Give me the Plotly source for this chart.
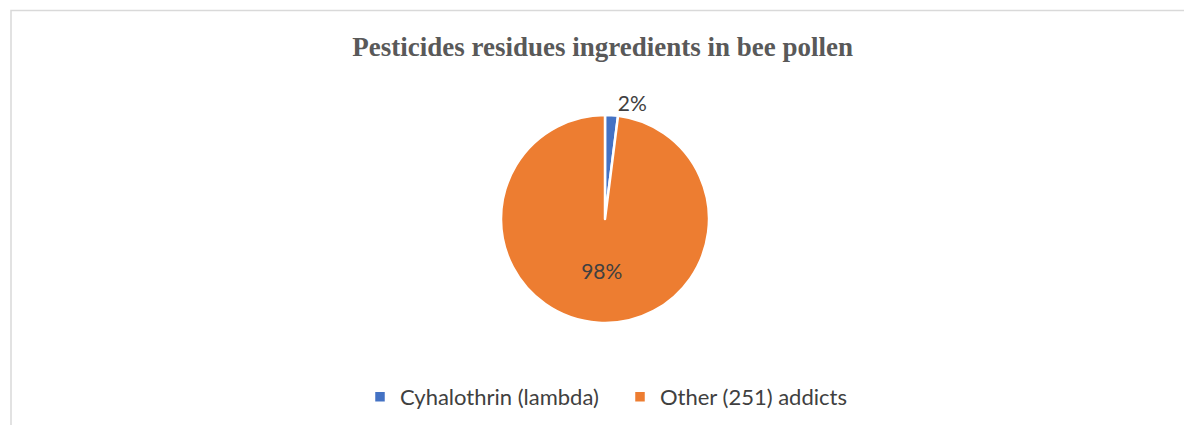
import plotly.graph_objects as go

labels = ["Cyhalothrin (lambda)", "Other (251) addicts"]
values = [2, 98]
colors = ["#4472C4", "#ED7D31"]
text_pos = ["outside", "inside"]

W, H = 1184, 425
cx, cy, r = 605, 219, 104
FONT = "Lato, Carlito, Calibri, sans-serif"

fig = go.Figure(go.Pie(
    labels=labels,
    values=values,
    sort=False,
    direction="clockwise",
    rotation=0,
    marker=dict(colors=colors, line=dict(color="white", width=2.5)),
    textinfo="percent",
    texttemplate="%{percent:.0%}",
    textposition=text_pos,
    insidetextorientation="horizontal",
    textfont=dict(family=FONT, size=21, color="#404040"),
    outsidetextfont=dict(family=FONT, size=21, color="#404040"),
    insidetextfont=dict(family=FONT, size=21, color="#404040"),
    domain=dict(x=[(cx - r) / W, (cx + r) / W], y=[(H - cy - r) / H, (H - cy + r) / H]),
    hoverinfo="label+percent",
    automargin=False,
))

fig.update_layout(
    width=W, height=H,
    margin=dict(l=0, r=0, t=0, b=0),
    paper_bgcolor="white",
    plot_bgcolor="white",
    title=dict(
        text="<b>Pesticides residues ingredients in bee pollen</b>",
        font=dict(family="Liberation Serif, Times New Roman, serif", size=27, color="#595959"),
        x=0.509, xanchor="center", y=1 - 47 / H, yanchor="middle",
    ),
    showlegend=True,
    legend=dict(
        orientation="h",
        x=360 / W, xanchor="left",
        y=1 - 397 / H, yanchor="middle",
        font=dict(family=FONT, size=22, color="#404040"),
        itemwidth=30,
        entrywidth=215, entrywidthmode="pixels",
        bgcolor="rgba(0,0,0,0)",
    ),
    shapes=[dict(
        type="rect", xref="paper", yref="paper",
        x0=11 / W, x1=1.01, y0=-0.01, y1=1 - 10.5 / H,
        line=dict(color="#D9D9D9", width=1.5),
        fillcolor="rgba(0,0,0,0)", layer="below",
    )],
)

fig.write_html("out.html")
